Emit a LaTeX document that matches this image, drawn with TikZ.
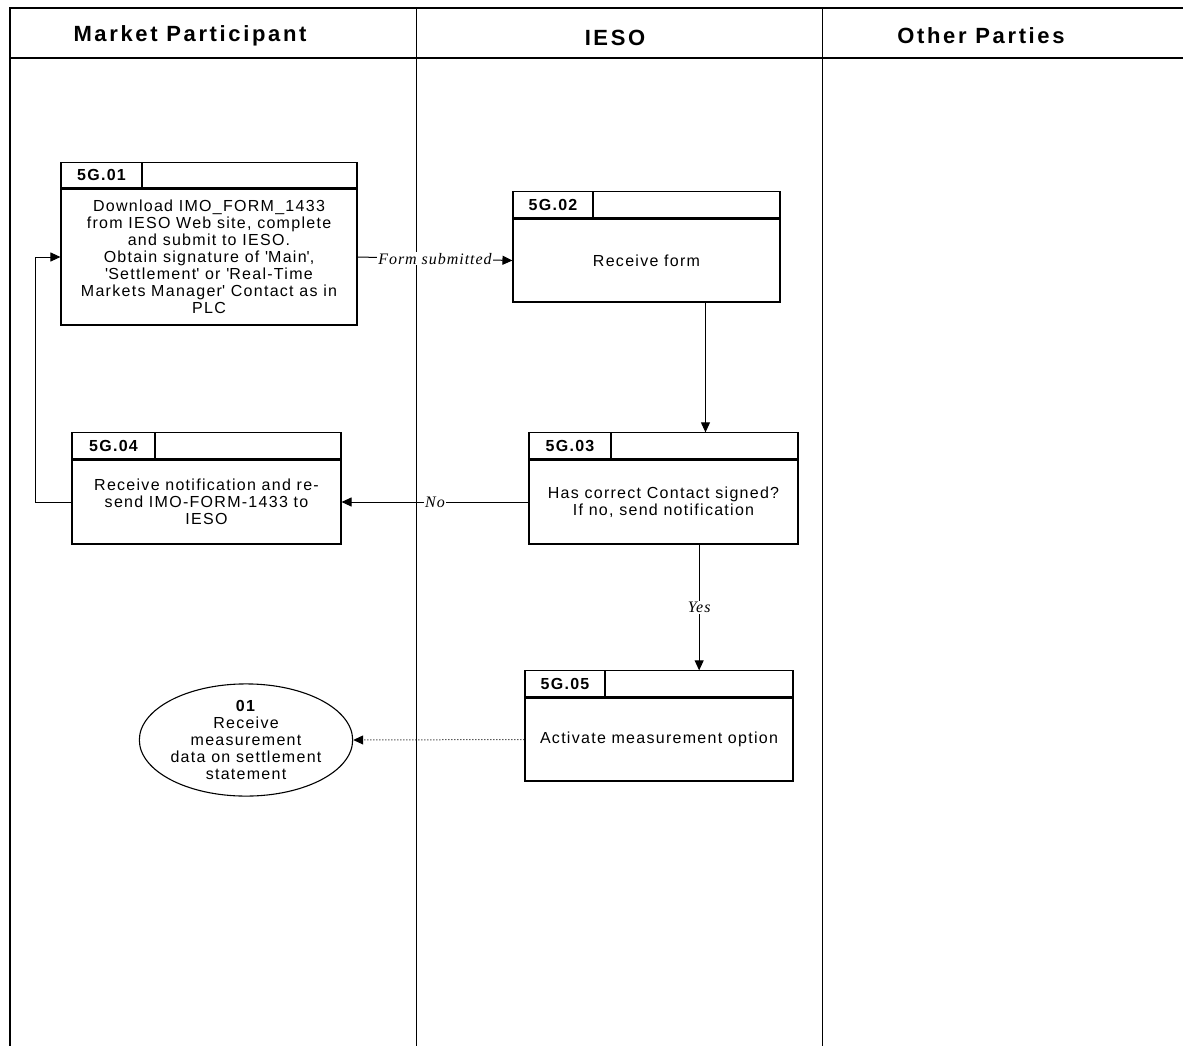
\documentclass[tikz,border=0pt]{standalone}
\usepackage{fontspec}
\setmainfont{Liberation Sans}[LetterSpace=8]
\newfontfamily\lanefont{Liberation Sans}[LetterSpace=12]
\newfontfamily\flowfont{Liberation Serif}[LetterSpace=6]
\usetikzlibrary{shapes.geometric, arrows.meta, positioning, calc}
\tikzstyle{lane} = [font=\lanefont\fontsize{22}{26}\selectfont\bfseries]
\tikzstyle{procbody} = [rectangle, draw=black, line width=1.1pt, fill=white, align=center, font=\fontsize{16}{17}\selectfont, inner sep=2pt]
\tikzstyle{prochead} = [rectangle, draw=black, line width=1.1pt, minimum height=26, inner sep=0pt]
\tikzstyle{procid} = [rectangle, draw=black, line width=1.1pt, minimum height=26, inner sep=0pt, font=\fontsize{16}{17}\selectfont\bfseries]
\tikzstyle{terminal} = [ellipse, draw=black, line width=1.1pt, align=center, font=\fontsize{16}{17}\selectfont, inner sep=0pt, minimum width=208, minimum height=104]
\tikzstyle{arrow} = [line width=1pt, -{Triangle[length=10pt,width=9pt]}]
\tikzstyle{flowlabel} = [fill=white, inner sep=1pt, font=\flowfont\itshape\fontsize{16}{17}\selectfont]
\newcommand{\q}{\textquotesingle}

\begin{document}
\begin{tikzpicture}[x=1pt, y=-1pt]
    \useasboundingbox (0,0) rectangle (1183,1046);
    % swim lanes
    \draw [line width=1.2pt] (10,1046) -- (10,8) -- (1183,8);
    \draw [line width=1.6pt] (10,58) -- (1183,58);
    \draw [line width=1pt] (416,8) -- (416,1046);
    \draw [line width=1pt] (822,8) -- (822,1046);
    \node (lanemp) [lane] at (190,36) {Market Participant};
    \node (laneieso) [lane] at (615,38) {IESO};
    \node (laneother) [lane] at (981,36) {Other Parties};

    % steps
    \node (s01) [procbody, minimum width=296, minimum height=136] at (209,257) {Download IMO\_FORM\_1433\\from IESO Web site, complete\\and submit to IESO.\\Obtain signature of \q Main\q,\\\q Settlement\q{} or \q Real-Time\\Markets Manager\q{} Contact as in\\PLC};
    \node (s01top) [prochead, minimum width=296, minimum height=25, anchor=south] at (s01.north) {};
    \node (s01id) [procid, minimum width=81, minimum height=25, anchor=west] at (s01top.west) {5G.01};

    \node (s02) [procbody, minimum width=267, minimum height=83] at (646.5,260.5) {Receive form};
    \node (s02top) [prochead, minimum width=267, anchor=south] at (s02.north) {};
    \node (s02id) [procid, minimum width=80, anchor=west] at (s02top.west) {5G.02};

    \node (s03) [procbody, minimum width=269, minimum height=84] at (663.5,502) {Has correct Contact signed?\\If no, send notification};
    \node (s03top) [prochead, minimum width=269, anchor=south] at (s03.north) {};
    \node (s03id) [procid, minimum width=82, anchor=west] at (s03top.west) {5G.03};

    \node (s04) [procbody, minimum width=269, minimum height=84] at (206.5,502) {Receive notification and re-\\send IMO-FORM-1433 to\\IESO};
    \node (s04top) [prochead, minimum width=269, anchor=south] at (s04.north) {};
    \node (s04id) [procid, minimum width=83, anchor=west] at (s04top.west) {5G.04};

    \node (s05) [procbody, minimum width=268, minimum height=83] at (659,739.5) {Activate measurement option};
    \node (s05top) [prochead, minimum width=268, anchor=south] at (s05.north) {};
    \node (s05id) [procid, minimum width=80, anchor=west] at (s05top.west) {5G.05};

    \node (end01) [terminal] at (246,740) {\textbf{01}\\Receive\\measurement\\data on settlement\\statement};

    % connectors
    \draw [arrow] (s01.east) -- node[flowlabel] {Form submitted} (s02.west);
    \draw [arrow] ($(s02.south west)!0.72!(s02.south east)$) coordinate (d23) -- (d23 |- s03top.north);
    \draw [arrow] (s03.west) -- node[flowlabel] {No} (s04.east);
    \draw [arrow] ($(s03.south west)!0.632!(s03.south east)$) coordinate (d35) -- node[flowlabel] {Yes} (d35 |- s05top.north);
    % loop back
    \draw [arrow] (s04.west) -- ++(-36,0) |- (s01.west);
    \draw [arrow, dotted] (s05.west) -- (end01.east);
\end{tikzpicture}
\end{document}
